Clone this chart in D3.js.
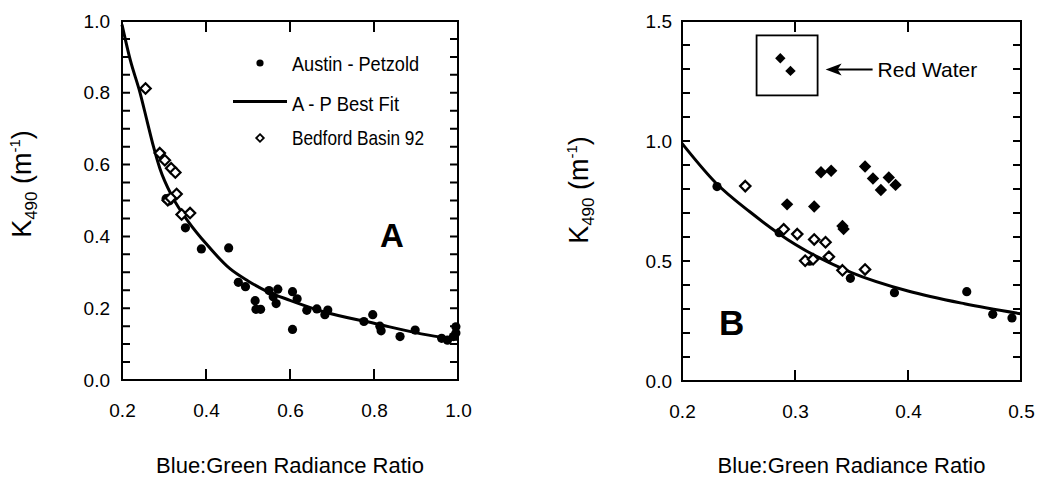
<!DOCTYPE html>
<html>
<head>
<meta charset="utf-8">
<script src="https://cdn.jsdelivr.net/npm/d3@7"></script>
<style>
  html, body { margin: 0; padding: 0; background: #fff; }
  svg { display: block; font-family: "Liberation Sans", Arial, Helvetica, sans-serif; }
</style>
</head>
<body>
<svg id="chart" width="1039" height="486"></svg>
<script>
// ---------------- DATA ----------------
// Austin-Petzold observations [blue:green ratio, K490], panel A
const austinPetzoldA = [
  [0.305,0.505],[0.313,0.499],[0.351,0.424],[0.389,0.365],
  [0.454,0.368],[0.477,0.272],[0.494,0.260],[0.517,0.221],[0.519,0.197],[0.530,0.197],
  [0.550,0.249],[0.560,0.232],[0.571,0.253],[0.567,0.213],[0.606,0.246],[0.617,0.226],
  [0.606,0.141],[0.640,0.194],[0.664,0.198],[0.690,0.195],[0.683,0.182],[0.776,0.163],
  [0.797,0.182],[0.814,0.150],[0.817,0.137],[0.862,0.121],[0.898,0.139],[0.961,0.116],
  [0.975,0.111],[0.989,0.121],[0.995,0.148],[0.995,0.131]
];
// Austin-Petzold observations, panel B
const austinPetzoldB = [
  [0.231,0.81],[0.286,0.618],[0.313,0.499],[0.349,0.428],[0.388,0.368],
  [0.452,0.372],[0.475,0.278],[0.492,0.263]
];
// Bedford Basin 92 (open diamonds)
const bedford92 = [
  [0.256,0.812],[0.290,0.632],[0.302,0.612],[0.317,0.590],[0.327,0.578],
  [0.330,0.518],[0.309,0.501],[0.316,0.507],[0.342,0.461],[0.362,0.465]
];
// Other Bedford Basin stations (filled diamonds, panel B)
const bedfordFilled = [
  [0.293,0.736],[0.317,0.727],[0.323,0.870],[0.332,0.876],[0.342,0.646],[0.343,0.633],
  [0.362,0.894],[0.369,0.844],[0.376,0.796],[0.383,0.848],[0.389,0.817]
];
// Red water stations
const redWater = [[0.287,1.345],[0.296,1.292]];
const redWaterBox = [[0.266,1.19],[0.320,1.44]];
// A-P best fit curve
const bestFitA = [
  [0.20,0.99],[0.22,0.89],[0.243,0.80],[0.26,0.72],[0.275,0.65],[0.29,0.59],[0.32,0.51],
  [0.36,0.438],[0.40,0.38],[0.457,0.31],[0.50,0.276],[0.545,0.247],[0.60,0.222],
  [0.68,0.19],[0.80,0.158],[0.93,0.125],[1.00,0.113]
];
const bestFitB = [
  [0.20,0.99],[0.23,0.825],[0.26,0.705],[0.30,0.57],[0.35,0.452],[0.40,0.375],
  [0.45,0.322],[0.50,0.28]
];
// Ticks / labels
const xTicksA = [0.2,0.4,0.6,0.8,1.0];
const yTicksA = [0.0,0.2,0.4,0.6,0.8,1.0];
const yMinorA = [0,0.05,0.1,0.15,0.2,0.25,0.3,0.35,0.4,0.45,0.5,0.55,0.6,0.65,0.7,0.75,0.8,0.85,0.9,0.95,1.0];
const xTicksB = [0.2,0.3,0.4,0.5];
const yTicksB = [0.0,0.5,1.0,1.5];
const yMinorB = [0,0.1,0.2,0.3,0.4,0.5,0.6,0.7,0.8,0.9,1.0,1.1,1.2,1.3,1.4,1.5];
const legendLabels = ["Austin - Petzold","A - P Best Fit","Bedford Basin 92"];
const xTitle = "Blue:Green Radiance Ratio";

// ---------------- DRAW ----------------
const svg = d3.select("#chart");

function yTitle(cx, cy) {
  const t = svg.append("text")
    .attr("transform", `translate(${cx},${cy}) rotate(-90)`)
    .attr("text-anchor","middle")
    .attr("font-size",27).attr("fill","#000");
  t.append("tspan").text("K");
  t.append("tspan").attr("font-size",17).attr("dy",6).text("490");
  t.append("tspan").attr("dy",-6).text(" (m");
  t.append("tspan").attr("font-size",15).attr("dy",-11).text("-1");
  t.append("tspan").attr("dy",11).text(")");
}

function panel(p) {
  const x = d3.scaleLinear().domain(p.xd).range([p.x0,p.x1]);
  const y = d3.scaleLinear().domain(p.yd).range([p.y0,p.y1]);
  const g = svg.append("g");

  g.append("rect").attr("x",p.x0).attr("y",p.y1).attr("width",p.x1-p.x0).attr("height",p.y0-p.y1)
    .attr("fill","none").attr("stroke","#000").attr("stroke-width",2);

  // inward ticks on all four sides
  const ticksPath = d3.path();
  p.yMinor.forEach(v => {
    ticksPath.moveTo(p.x0, y(v)); ticksPath.lineTo(p.x0 + 8, y(v));
    ticksPath.moveTo(p.x1, y(v)); ticksPath.lineTo(p.x1 - 8, y(v));
  });
  p.xTicks.forEach(v => {
    ticksPath.moveTo(x(v), p.y0); ticksPath.lineTo(x(v), p.y0 - 11);
    ticksPath.moveTo(x(v), p.y1); ticksPath.lineTo(x(v), p.y1 + 11);
  });
  g.append("path").attr("d", ticksPath.toString())
    .style("stroke","#000").style("stroke-width","2px").style("fill","none");

  const yl = g.append("g").attr("transform",`translate(${p.x0},0)`)
    .call(d3.axisLeft(y).tickValues(p.yTicks).tickSize(0).tickPadding(p.yPad).tickFormat(d3.format(".1f")));
  yl.select(".domain").remove();
  yl.selectAll("text").attr("font-size",19).attr("font-family","Liberation Sans, Arial, sans-serif").attr("fill","#000");
  const xl = g.append("g").attr("transform",`translate(0,${p.y0})`)
    .call(d3.axisBottom(x).tickValues(p.xTicks).tickSize(0).tickPadding(24).tickFormat(d3.format(".1f")));
  xl.select(".domain").remove();
  xl.selectAll("text").attr("font-size",19).attr("font-family","Liberation Sans, Arial, sans-serif").attr("fill","#000");

  g.append("text").attr("x",(p.x0+p.x1)/2).attr("y",473).attr("text-anchor","middle")
    .attr("font-size",22).attr("fill","#000").text(xTitle);

  const inX = d => d[0] >= p.xd[0] && d[0] <= p.xd[1];
  g.append("path").datum(p.fit)
    .attr("d", d3.line().x(d=>x(d[0])).y(d=>y(d[1])).curve(d3.curveMonotoneX))
    .attr("fill","none").attr("stroke","#000").attr("stroke-width",3);
  g.append("g").selectAll("circle").data(p.ap).join("circle")
    .attr("cx",d=>x(d[0])).attr("cy",d=>y(d[1])).attr("r",4.6).attr("fill","#000");
  const dia = s => `M0,${-s}L${s},0L0,${s}L${-s},0Z`;
  g.append("g").selectAll("path").data(bedford92.filter(inX)).join("path")
    .attr("transform",d=>`translate(${x(d[0])},${y(d[1])})`).attr("d",dia(5.2))
    .attr("fill","#fff").attr("stroke","#000").attr("stroke-width",2.2);
  return {x,y,g,dia};
}

// Panel A
const A = panel({xd:[0.2,1.0], yd:[0,1.0], x0:122, x1:458, y0:380, y1:21,
  xTicks:xTicksA, yTicks:yTicksA, yMinor:yMinorA, yPad:12, fit:bestFitA, ap:austinPetzoldA});
yTitle(31, 184);
A.g.append("text").attr("x",380).attr("y",247).attr("font-size",33).attr("font-weight","bold").text("A");

// legend
const lg = A.g.append("g");
lg.append("circle").attr("cx",260).attr("cy",63).attr("r",3.6).attr("fill","#000");
lg.append("line").attr("x1",233).attr("x2",287).attr("y1",101.5).attr("y2",101.5).attr("stroke","#000").attr("stroke-width",3);
lg.append("path").attr("transform","translate(260,138)").attr("d",A.dia(3.8))
  .attr("fill","#fff").attr("stroke","#000").attr("stroke-width",1.8);
const lgLens = [127,107,132];
const lgY = [71,111,145];
legendLabels.forEach((t,i) => {
  lg.append("text").attr("x",292).attr("y",lgY[i]).attr("font-size",21)
    .attr("textLength",lgLens[i]).attr("lengthAdjust","spacingAndGlyphs").text(t);
});

// Panel B
const B = panel({xd:[0.2,0.5], yd:[0,1.5], x0:682, x1:1021, y0:381, y1:21,
  xTicks:xTicksB, yTicks:yTicksB, yMinor:yMinorB, yPad:10, fit:bestFitB, ap:austinPetzoldB});
yTitle(588, 190);
B.g.append("text").attr("x",719).attr("y",335).attr("font-size",35).attr("font-weight","bold").text("B");
B.g.append("g").selectAll("path").data(bedfordFilled).join("path")
  .attr("transform",d=>`translate(${B.x(d[0])},${B.y(d[1])})`).attr("d",B.dia(6.2)).attr("fill","#000");
B.g.append("g").selectAll("path").data(redWater).join("path")
  .attr("transform",d=>`translate(${B.x(d[0])},${B.y(d[1])})`).attr("d",B.dia(5.2)).attr("fill","#000");
B.g.append("rect")
  .attr("x",B.x(redWaterBox[0][0])).attr("y",B.y(redWaterBox[1][1]))
  .attr("width",B.x(redWaterBox[1][0])-B.x(redWaterBox[0][0]))
  .attr("height",B.y(redWaterBox[0][1])-B.y(redWaterBox[1][1]))
  .attr("fill","none").attr("stroke","#000").attr("stroke-width",1.8);
// arrow + label
const ay = B.y((redWaterBox[0][1]+redWaterBox[1][1])/2) + 4;
const ax0 = B.x(redWaterBox[1][0]) + 8;
B.g.append("line").attr("x1",ax0+8).attr("x2",ax0+47).attr("y1",ay).attr("y2",ay).attr("stroke","#000").attr("stroke-width",2);
B.g.append("path").attr("d",`M${ax0},${ay}L${ax0+16},${ay-6}L${ax0+12},${ay}L${ax0+16},${ay+6}Z`).attr("fill","#000");
B.g.append("text").attr("x",ax0+52).attr("y",ay+8).attr("font-size",21).text("Red Water");
</script>
</body>
</html>
